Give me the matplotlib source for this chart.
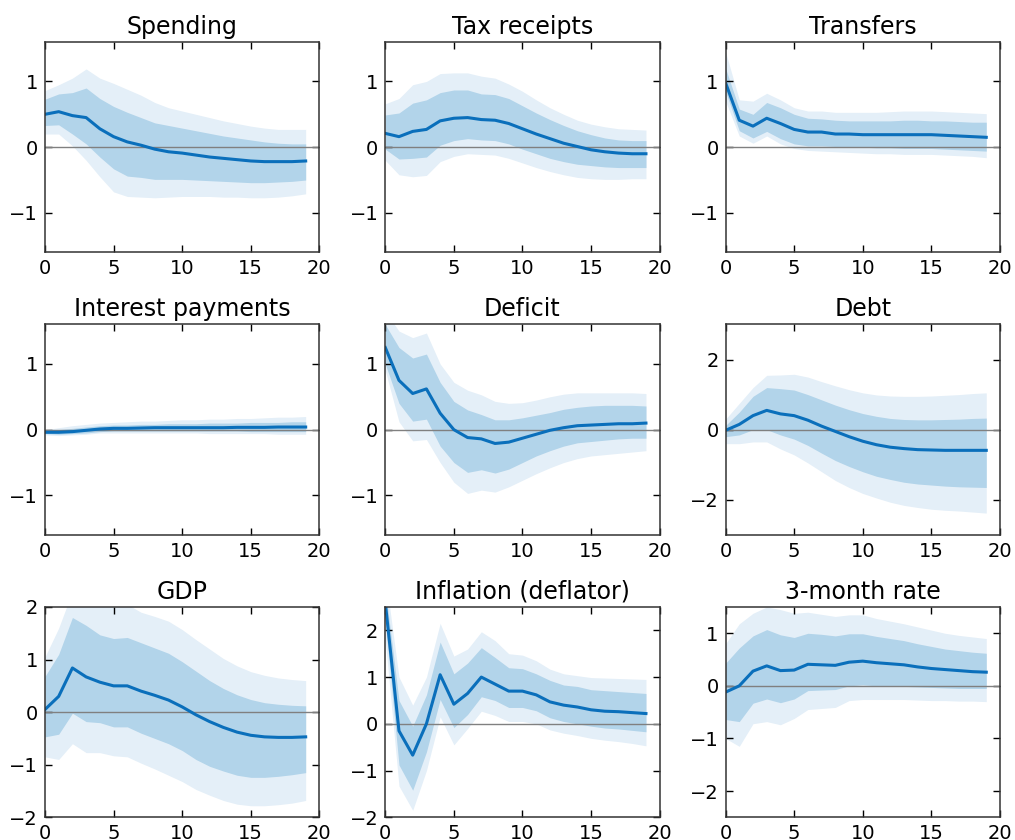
import numpy as np
import matplotlib
matplotlib.use("Agg")
import matplotlib.pyplot as plt

horizon = list(range(20))

titles = ["Spending", "Tax receipts", "Transfers",
          "Interest payments", "Deficit", "Debt",
          "GDP", "Inflation (deflator)", "3-month rate"]

ylims = [(-1.6, 1.6), (-1.6, 1.6), (-1.6, 1.6),
         (-1.6, 1.6), (-1.6, 1.6), (-3, 3),
         (-2, 2), (-2, 2.5), (-2.5, 1.5)]

yticks = [[-1, 0, 1], [-1, 0, 1], [-1, 0, 1],
          [-1, 0, 1], [-1, 0, 1], [-2, 0, 2],
          [-2, -1, 0, 1, 2], [-2, -1, 0, 1, 2], [-2, -1, 0, 1]]

# Median responses
spending_med = [0.50, 0.54, 0.48, 0.45, 0.28, 0.16, 0.08, 0.03, -0.03, -0.07,
                -0.09, -0.12, -0.15, -0.17, -0.19, -0.21, -0.22, -0.22, -0.22, -0.21]
tax_med = [0.21, 0.16, 0.24, 0.27, 0.40, 0.44, 0.45, 0.42, 0.41, 0.36,
           0.28, 0.20, 0.13, 0.06, 0.01, -0.04, -0.07, -0.09, -0.10, -0.10]
transfers_med = [0.98, 0.41, 0.32, 0.44, 0.36, 0.27, 0.23, 0.23, 0.20, 0.20,
                 0.19, 0.19, 0.19, 0.19, 0.19, 0.19, 0.18, 0.17, 0.16, 0.15]
interest_med = [-0.04, -0.04, -0.03, -0.01, 0.01, 0.02, 0.02, 0.025, 0.03, 0.03,
                0.03, 0.03, 0.03, 0.03, 0.035, 0.035, 0.035, 0.04, 0.04, 0.04]
deficit_med = [1.25, 0.75, 0.55, 0.62, 0.25, 0.00, -0.12, -0.14, -0.21, -0.19,
               -0.13, -0.07, -0.01, 0.03, 0.06, 0.07, 0.08, 0.09, 0.09, 0.10]
debt_med = [-0.02, 0.15, 0.40, 0.55, 0.45, 0.40, 0.27, 0.10, -0.05, -0.20,
            -0.33, -0.43, -0.50, -0.54, -0.57, -0.58, -0.59, -0.59, -0.59, -0.59]
gdp_med = [0.05, 0.30, 0.84, 0.67, 0.57, 0.50, 0.50, 0.40, 0.32, 0.23,
           0.10, -0.05, -0.18, -0.29, -0.38, -0.44, -0.47, -0.48, -0.48, -0.47]
inflation_med = [2.60, -0.15, -0.67, 0.00, 1.05, 0.42, 0.65, 1.00, 0.85, 0.70,
                 0.70, 0.62, 0.47, 0.40, 0.36, 0.30, 0.27, 0.26, 0.24, 0.22]
rate_med = [-0.12, 0.00, 0.28, 0.38, 0.29, 0.30, 0.41, 0.40, 0.39, 0.45,
            0.47, 0.44, 0.42, 0.40, 0.36, 0.33, 0.31, 0.29, 0.27, 0.26]

# Inner (68%) bands
spending_lo68 = [0.33, 0.34, 0.20, 0.05, -0.15, -0.33, -0.44, -0.46, -0.49, -0.49,
                 -0.49, -0.50, -0.51, -0.52, -0.53, -0.54, -0.54, -0.53, -0.52, -0.50]
spending_hi68 = [0.73, 0.81, 0.83, 0.90, 0.74, 0.62, 0.53, 0.45, 0.37, 0.33,
                 0.29, 0.25, 0.21, 0.17, 0.14, 0.11, 0.08, 0.06, 0.05, 0.05]
tax_lo68 = [-0.03, -0.18, -0.17, -0.15, 0.03, 0.10, 0.13, 0.11, 0.10, 0.05,
            -0.03, -0.10, -0.17, -0.22, -0.26, -0.28, -0.30, -0.31, -0.31, -0.31]
tax_hi68 = [0.49, 0.52, 0.67, 0.72, 0.83, 0.87, 0.87, 0.81, 0.80, 0.74,
            0.63, 0.52, 0.42, 0.33, 0.25, 0.19, 0.14, 0.11, 0.10, 0.10]
transfers_lo68 = [0.85, 0.25, 0.14, 0.24, 0.13, 0.05, 0.02, 0.02, 0.01, 0.01,
                  0.00, -0.01, -0.01, -0.02, -0.02, -0.02, -0.03, -0.04, -0.05, -0.06]
transfers_hi68 = [1.20, 0.58, 0.50, 0.68, 0.60, 0.50, 0.44, 0.43, 0.41, 0.40,
                  0.40, 0.40, 0.40, 0.41, 0.41, 0.40, 0.40, 0.39, 0.38, 0.38]
interest_lo68 = [-0.06, -0.07, -0.06, -0.05, -0.03, -0.02, -0.02, -0.02, -0.02, -0.02,
                 -0.02, -0.02, -0.02, -0.02, -0.02, -0.03, -0.03, -0.03, -0.03, -0.03]
interest_hi68 = [-0.01, 0.00, 0.02, 0.04, 0.06, 0.07, 0.07, 0.08, 0.08, 0.09,
                 0.09, 0.09, 0.10, 0.10, 0.10, 0.11, 0.11, 0.11, 0.12, 0.12]
deficit_lo68 = [1.00, 0.40, 0.13, 0.16, -0.25, -0.50, -0.65, -0.61, -0.66, -0.60,
                -0.50, -0.40, -0.32, -0.25, -0.20, -0.18, -0.16, -0.14, -0.13, -0.13]
deficit_hi68 = [1.60, 1.25, 1.09, 1.15, 0.72, 0.43, 0.30, 0.23, 0.15, 0.15,
                0.18, 0.22, 0.26, 0.31, 0.34, 0.36, 0.37, 0.37, 0.37, 0.36]
debt_lo68 = [-0.20, -0.15, 0.00, 0.00, -0.15, -0.27, -0.45, -0.67, -0.88, -1.05,
             -1.20, -1.33, -1.42, -1.50, -1.55, -1.58, -1.61, -1.63, -1.64, -1.65]
debt_hi68 = [0.12, 0.50, 0.95, 1.20, 1.17, 1.13, 1.00, 0.85, 0.70, 0.57,
             0.46, 0.38, 0.32, 0.29, 0.28, 0.28, 0.29, 0.30, 0.32, 0.33]
gdp_lo68 = [-0.47, -0.42, -0.02, -0.18, -0.20, -0.28, -0.28, -0.40, -0.50, -0.60,
            -0.73, -0.90, -1.03, -1.12, -1.20, -1.24, -1.24, -1.22, -1.19, -1.15]
gdp_hi68 = [0.68, 1.10, 1.80, 1.65, 1.47, 1.40, 1.42, 1.32, 1.22, 1.12,
            0.96, 0.78, 0.60, 0.45, 0.33, 0.24, 0.18, 0.15, 0.13, 0.12]
inflation_lo68 = [2.20, -0.88, -1.42, -0.60, 0.52, -0.08, 0.20, 0.58, 0.50, 0.35,
                  0.35, 0.28, 0.13, 0.05, 0.00, -0.05, -0.09, -0.11, -0.14, -0.17]
inflation_hi68 = [2.90, 0.50, -0.05, 0.62, 1.75, 1.07, 1.30, 1.63, 1.42, 1.20,
                  1.18, 1.07, 0.93, 0.83, 0.80, 0.73, 0.71, 0.69, 0.67, 0.65]
rate_lo68 = [-0.64, -0.68, -0.33, -0.25, -0.32, -0.25, -0.09, -0.08, -0.07, 0.00,
             0.02, 0.00, -0.01, -0.01, -0.02, -0.03, -0.04, -0.05, -0.05, -0.05]
rate_hi68 = [0.43, 0.72, 0.95, 1.07, 0.97, 0.92, 1.00, 0.98, 0.95, 0.99,
             0.99, 0.94, 0.90, 0.86, 0.80, 0.75, 0.70, 0.67, 0.64, 0.62]

# Outer (90%) bands
spending_lo90 = [0.20, 0.20, 0.02, -0.20, -0.45, -0.68, -0.75, -0.76, -0.77, -0.76,
                 -0.75, -0.75, -0.75, -0.76, -0.76, -0.77, -0.77, -0.76, -0.74, -0.71]
spending_hi90 = [0.86, 0.95, 1.05, 1.19, 1.05, 0.97, 0.88, 0.79, 0.68, 0.60,
                 0.55, 0.50, 0.45, 0.40, 0.36, 0.32, 0.29, 0.27, 0.27, 0.27]
tax_lo90 = [-0.20, -0.42, -0.45, -0.43, -0.22, -0.14, -0.10, -0.11, -0.12, -0.17,
            -0.24, -0.31, -0.37, -0.42, -0.46, -0.48, -0.49, -0.49, -0.48, -0.48]
tax_hi90 = [0.66, 0.74, 0.95, 1.00, 1.12, 1.13, 1.13, 1.08, 1.05, 0.96,
            0.85, 0.72, 0.60, 0.50, 0.41, 0.35, 0.31, 0.28, 0.27, 0.26]
transfers_lo90 = [0.70, 0.17, 0.06, 0.17, 0.05, -0.02, -0.05, -0.06, -0.07, -0.08,
                  -0.09, -0.10, -0.10, -0.11, -0.11, -0.11, -0.12, -0.13, -0.14, -0.16]
transfers_hi90 = [1.45, 0.72, 0.70, 0.82, 0.72, 0.60, 0.55, 0.55, 0.53, 0.53,
                  0.53, 0.53, 0.54, 0.55, 0.55, 0.55, 0.54, 0.53, 0.52, 0.51]
interest_lo90 = [-0.08, -0.09, -0.08, -0.07, -0.05, -0.05, -0.05, -0.05, -0.05, -0.05,
                 -0.05, -0.05, -0.06, -0.06, -0.06, -0.06, -0.06, -0.07, -0.07, -0.07]
interest_hi90 = [0.00, 0.03, 0.06, 0.08, 0.10, 0.11, 0.12, 0.13, 0.13, 0.14,
                 0.15, 0.15, 0.16, 0.16, 0.17, 0.17, 0.18, 0.19, 0.19, 0.20]
deficit_lo90 = [0.90, 0.12, -0.17, -0.15, -0.50, -0.80, -0.97, -0.92, -0.95, -0.87,
                -0.77, -0.67, -0.58, -0.50, -0.44, -0.40, -0.38, -0.36, -0.34, -0.32]
deficit_hi90 = [1.80, 1.50, 1.40, 1.47, 1.00, 0.72, 0.60, 0.53, 0.43, 0.40,
                0.41, 0.45, 0.50, 0.54, 0.56, 0.56, 0.56, 0.56, 0.56, 0.55]
debt_lo90 = [-0.40, -0.40, -0.35, -0.35, -0.55, -0.72, -0.95, -1.20, -1.45, -1.65,
             -1.82, -1.95, -2.07, -2.16, -2.22, -2.27, -2.30, -2.32, -2.35, -2.38]
debt_hi90 = [0.30, 0.75, 1.20, 1.55, 1.56, 1.58, 1.50, 1.37, 1.25, 1.14,
             1.05, 0.99, 0.96, 0.95, 0.95, 0.96, 0.98, 1.00, 1.03, 1.05]
gdp_lo90 = [-0.85, -0.90, -0.60, -0.77, -0.77, -0.83, -0.85, -0.97, -1.08, -1.20,
            -1.32, -1.47, -1.58, -1.68, -1.75, -1.78, -1.78, -1.76, -1.73, -1.68]
gdp_hi90 = [1.05, 1.60, 2.30, 2.20, 2.10, 2.05, 2.05, 1.90, 1.82, 1.73,
            1.57, 1.38, 1.20, 1.02, 0.88, 0.77, 0.70, 0.65, 0.62, 0.60]
inflation_lo90 = [1.80, -1.33, -1.85, -1.00, 0.15, -0.45, -0.10, 0.27, 0.18, 0.05,
                  0.05, 0.00, -0.13, -0.20, -0.25, -0.31, -0.35, -0.38, -0.42, -0.47]
inflation_hi90 = [3.20, 1.00, 0.40, 1.00, 2.15, 1.45, 1.60, 1.97, 1.78, 1.50,
                  1.47, 1.35, 1.17, 1.07, 1.03, 0.99, 0.98, 0.97, 0.96, 0.95]
rate_lo90 = [-1.00, -1.15, -0.72, -0.68, -0.74, -0.62, -0.45, -0.43, -0.41, -0.28,
             -0.26, -0.26, -0.26, -0.26, -0.27, -0.28, -0.28, -0.29, -0.29, -0.30]
rate_hi90 = [0.80, 1.18, 1.38, 1.50, 1.45, 1.38, 1.40, 1.36, 1.32, 1.35,
             1.35, 1.28, 1.23, 1.18, 1.12, 1.06, 1.00, 0.96, 0.93, 0.90]

medians = [spending_med, tax_med, transfers_med, interest_med, deficit_med,
           debt_med, gdp_med, inflation_med, rate_med]
lo68 = [spending_lo68, tax_lo68, transfers_lo68, interest_lo68, deficit_lo68,
        debt_lo68, gdp_lo68, inflation_lo68, rate_lo68]
hi68 = [spending_hi68, tax_hi68, transfers_hi68, interest_hi68, deficit_hi68,
        debt_hi68, gdp_hi68, inflation_hi68, rate_hi68]
lo90 = [spending_lo90, tax_lo90, transfers_lo90, interest_lo90, deficit_lo90,
        debt_lo90, gdp_lo90, inflation_lo90, rate_lo90]
hi90 = [spending_hi90, tax_hi90, transfers_hi90, interest_hi90, deficit_hi90,
        debt_hi90, gdp_hi90, inflation_hi90, rate_hi90]

LINE = "#0a6fbb"
BAND68 = "#b2d4ea"
BAND90 = "#e4eff8"

fig = plt.figure(figsize=(10.15, 8.4), dpi=100)
gs = fig.add_gridspec(3, 3, left=0.0443, right=0.9852, top=0.950, bottom=0.027,
                      wspace=0.24, hspace=0.343)

for i in range(9):
    ax = fig.add_subplot(gs[i // 3, i % 3])
    ax.fill_between(horizon, lo90[i], hi90[i], color=BAND90, linewidth=0)
    ax.fill_between(horizon, lo68[i], hi68[i], color=BAND68, linewidth=0)
    ax.axhline(0, color="#808080", linewidth=1.0)
    ax.plot(horizon, medians[i], color=LINE, linewidth=2.2)
    ax.set_xlim(0, 20)
    ax.set_ylim(*ylims[i])
    ax.set_xticks([0, 5, 10, 15, 20])
    ax.set_yticks(yticks[i])
    ax.set_title(titles[i], fontsize=17, pad=6)
    ax.tick_params(direction="in", top=True, right=True, labelsize=14,
                   length=5, width=1.0, pad=5)
    for s in ax.spines.values():
        s.set_linewidth(1.1)
        s.set_color("#333333")

fig.savefig("out.png", dpi=100)
